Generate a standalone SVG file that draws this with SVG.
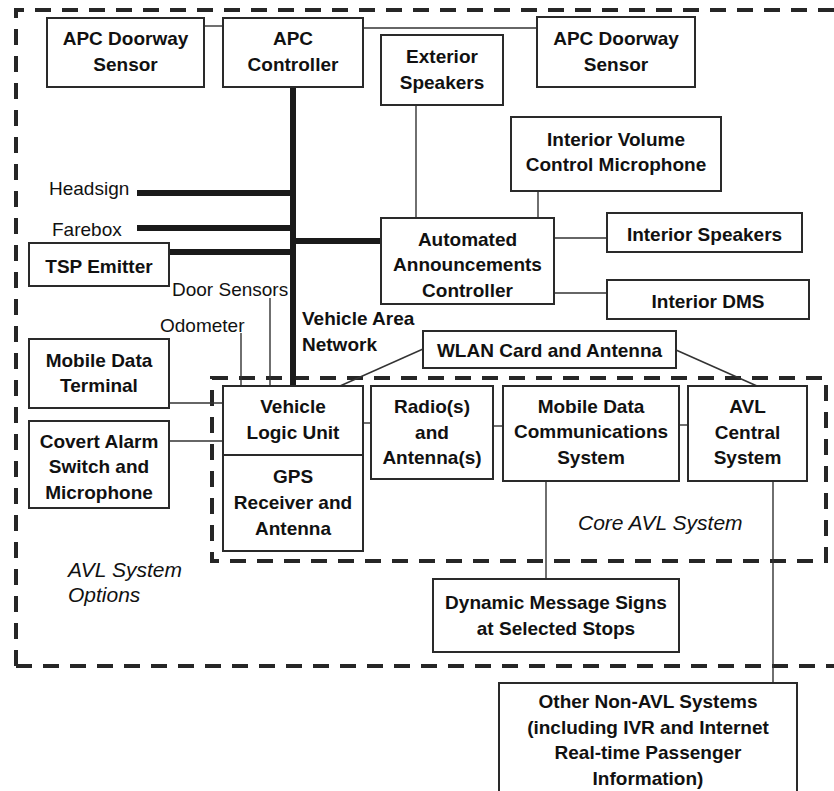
<svg xmlns="http://www.w3.org/2000/svg" width="834" height="791" viewBox="0 0 834 791">
<style>
.box{fill:#fff;stroke:#2a2a2a;stroke-width:2}
.b{font-family:"Liberation Sans",Arial,sans-serif;font-weight:bold;font-size:19px;fill:#111;text-anchor:middle}
.r{font-family:"Liberation Sans",Arial,sans-serif;font-size:19px;fill:#111}
.i{font-family:"Liberation Sans",Arial,sans-serif;font-style:italic;font-size:21px;fill:#111}
.c{stroke:#333;stroke-width:1.4;fill:none}
.bus{stroke:#1a1a1a;stroke-width:6;fill:none}
.dash{stroke:#262626;stroke-width:4;fill:none;stroke-dasharray:16 11}
</style>
<rect width="834" height="791" fill="#fff"/>
<g id="boundaries">
<path class="dash" d="M16 666 V10 H834"/>
<path class="dash" d="M16 666 H834"/>
<rect class="dash" x="212" y="378" width="614" height="183"/>
</g>
<g id="connectors">
<line class="c" x1="204" y1="26" x2="223" y2="26"/>
<line class="c" x1="363" y1="28" x2="537" y2="28"/>
<line class="c" x1="416" y1="105" x2="416" y2="218"/>
<line class="c" x1="538" y1="191" x2="538" y2="218"/>
<line class="c" x1="554" y1="238" x2="607" y2="238"/>
<line class="c" x1="554" y1="293" x2="607" y2="293"/>
<line class="bus" x1="293" y1="87" x2="293" y2="386"/>
<line class="bus" x1="137" y1="193" x2="293" y2="193"/>
<line class="bus" x1="137" y1="228" x2="293" y2="228"/>
<line class="bus" x1="293" y1="241" x2="381" y2="241"/>
<line class="bus" x1="169" y1="252" x2="293" y2="252"/>
<line class="c" x1="270" y1="298" x2="270" y2="386"/>
<line class="c" x1="241" y1="333" x2="241" y2="386"/>
<line class="c" x1="169" y1="403" x2="223" y2="403"/>
<line class="c" x1="169" y1="441" x2="223" y2="441"/>
<line class="c" x1="363" y1="423" x2="371" y2="423"/>
<line class="c" x1="493" y1="426" x2="503" y2="426"/>
<line class="c" x1="679" y1="425" x2="688" y2="425"/>
<line class="c" x1="423" y1="349" x2="340" y2="386"/>
<line class="c" x1="676" y1="350" x2="757" y2="386"/>
<line class="c" x1="546" y1="481" x2="546" y2="579"/>
<line class="c" x1="773" y1="481" x2="773" y2="683"/>
</g>
<g id="apc-doorway-left"><rect class="box" x="47" y="18" width="157" height="69"/><text class="b" x="125.5" y="45">APC Doorway</text><text class="b" x="125.5" y="71">Sensor</text></g>
<g id="apc-controller"><rect class="box" x="223" y="18" width="140" height="69"/><text class="b" x="293" y="45">APC</text><text class="b" x="293" y="71">Controller</text></g>
<g id="apc-doorway-right"><rect class="box" x="537" y="17" width="158" height="70"/><text class="b" x="616" y="45">APC Doorway</text><text class="b" x="616" y="71">Sensor</text></g>
<g id="exterior-speakers"><rect class="box" x="381" y="35" width="122" height="70"/><text class="b" x="442" y="63">Exterior</text><text class="b" x="442" y="89">Speakers</text></g>
<g id="interior-volume"><rect class="box" x="511" y="117" width="210" height="74"/><text class="b" x="616" y="146">Interior Volume</text><text class="b" x="616" y="171">Control Microphone</text></g>
<g id="aac"><rect class="box" x="381" y="218" width="173" height="86"/><text class="b" x="467.5" y="246">Automated</text><text class="b" x="467.5" y="271">Announcements</text><text class="b" x="467.5" y="297">Controller</text></g>
<g id="interior-speakers"><rect class="box" x="607" y="213" width="195" height="39"/><text class="b" x="704.5" y="241">Interior Speakers</text></g>
<g id="interior-dms"><rect class="box" x="607" y="280" width="202" height="39"/><text class="b" x="708" y="308">Interior DMS</text></g>
<g id="headsign"><text class="r" x="49" y="195">Headsign</text></g>
<g id="farebox"><text class="r" x="52" y="236">Farebox</text></g>
<g id="tsp-emitter"><rect class="box" x="29" y="243" width="140" height="43"/><text class="b" x="99" y="273">TSP Emitter</text></g>
<g id="door-sensors"><text class="r" x="172" y="296">Door Sensors</text></g>
<g id="odometer"><text class="r" x="160" y="332">Odometer</text></g>
<g id="van-label"><text class="b" x="302" y="325" style="text-anchor:start">Vehicle Area</text><text class="b" x="302" y="351" style="text-anchor:start">Network</text></g>
<g id="mdt"><rect class="box" x="29" y="339" width="140" height="69"/><text class="b" x="99" y="367">Mobile Data</text><text class="b" x="99" y="392">Terminal</text></g>
<g id="covert-alarm"><rect class="box" x="29" y="421" width="140" height="87"/><text class="b" x="99" y="448">Covert Alarm</text><text class="b" x="99" y="473">Switch and</text><text class="b" x="99" y="499">Microphone</text></g>
<g id="wlan"><rect class="box" x="423" y="331" width="253" height="37"/><text class="b" x="549.5" y="357">WLAN Card and Antenna</text></g>
<g id="vlu"><rect class="box" x="223" y="386" width="140" height="69"/><text class="b" x="293" y="413">Vehicle</text><text class="b" x="293" y="439">Logic Unit</text></g>
<g id="gps"><rect class="box" x="223" y="455" width="140" height="96"/><text class="b" x="293" y="483">GPS</text><text class="b" x="293" y="509">Receiver and</text><text class="b" x="293" y="535">Antenna</text></g>
<g id="radio"><rect class="box" x="371" y="386" width="122" height="93"/><text class="b" x="432" y="413">Radio(s)</text><text class="b" x="432" y="439">and</text><text class="b" x="432" y="464">Antenna(s)</text></g>
<g id="mdcs"><rect class="box" x="503" y="386" width="176" height="95"/><text class="b" x="591" y="413">Mobile Data</text><text class="b" x="591" y="438">Communications</text><text class="b" x="591" y="464">System</text></g>
<g id="avl-central"><rect class="box" x="688" y="386" width="119" height="95"/><text class="b" x="747.5" y="413">AVL</text><text class="b" x="747.5" y="439">Central</text><text class="b" x="747.5" y="464">System</text></g>
<g id="core-label"><text class="i" x="578" y="530">Core AVL System</text></g>
<g id="options-label"><text class="i" x="68" y="577">AVL System</text><text class="i" x="68" y="602">Options</text></g>
<g id="dms-stops"><rect class="box" x="433" y="579" width="246" height="73"/><text class="b" x="556" y="609">Dynamic Message Signs</text><text class="b" x="556" y="635">at Selected Stops</text></g>
<g id="other-systems"><rect class="box" x="499" y="683" width="298" height="120"/><text class="b" x="648" y="708">Other Non-AVL Systems</text><text class="b" x="648" y="734">(including IVR and Internet</text><text class="b" x="648" y="759">Real-time Passenger</text><text class="b" x="648" y="785">Information)</text></g>
</svg>
